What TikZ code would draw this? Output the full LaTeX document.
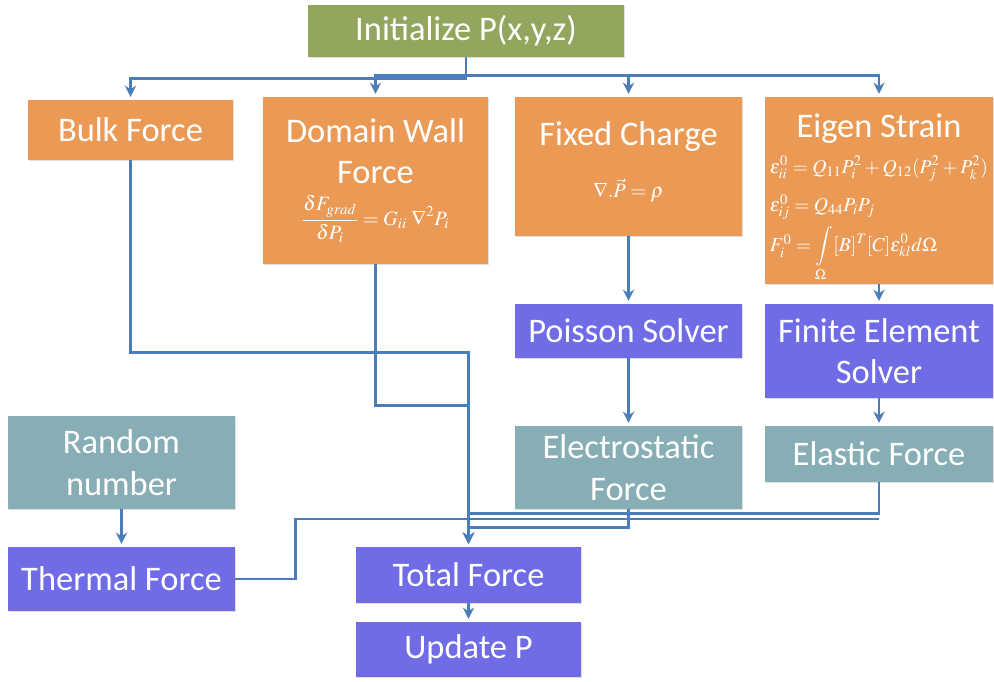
\documentclass[tikz,border=0pt]{standalone}
\usepackage{mathptmx}
\usepackage[no-math]{fontspec}
\setmainfont{Carlito}
\usetikzlibrary{arrows.meta,shadows}
\definecolor{initgreen}{HTML}{93A65E}
\definecolor{forceorange}{HTML}{EB9A56}
\definecolor{solverblue}{HTML}{6F6CE6}
\definecolor{resultteal}{HTML}{88AEB5}
\definecolor{lineblue}{HTML}{4A7EBB}
\newcommand\eqsize{\fontsize{14.5}{17}\selectfont}
\begin{document}
\begin{tikzpicture}[x=0.025cm,y=-0.025cm,
  box/.style={rectangle,inner sep=0pt,text=white,align=center,
    font=\fontsize{24.5}{29.5}\selectfont,
    drop shadow={opacity=0.25,shadow xshift=1pt,shadow yshift=-1pt}},
  flow/.style={draw=lineblue,line width=2pt,shorten >=2pt,
    -{Stealth[length=8pt,width=8pt]}},
  link/.style={draw=lineblue,line width=2pt}]
  \useasboundingbox (0,0) rectangle (994,682);
  % top row
  \node[box,fill=initgreen,minimum width=7.9cm,minimum height=1.3cm]
    (init) at (466,31) {Initialize P(x,y,z)};
  \node[box,fill=forceorange,minimum width=5.125cm,minimum height=1.5cm]
    (bulk) at (130.5,130) {Bulk Force};
  \node[box,fill=forceorange,minimum width=5.625cm,minimum height=4.175cm]
    (domain) at (375.5,180.5)
    {Domain Wall\\Force\\[0pt]
     \eqsize$\displaystyle\frac{\delta F_{grad}}{\delta P_i}=G_{ii}\ \nabla^2P_i$};
  \node[box,fill=forceorange,minimum width=5.675cm,minimum height=3.475cm]
    (fixed) at (628.5,166.5)
    {Fixed Charge\\[8pt]\eqsize$\nabla.\vec{P}=\rho$\rule[-10pt]{0pt}{0pt}};
  \node[box,fill=forceorange,minimum width=5.7cm,minimum height=4.675cm]
    (eigen) at (879,190.5)
    {\rule{0pt}{27pt}Eigen Strain\\[8pt]
     \fontsize{14}{17}\selectfont\begin{tabular}{@{}l@{}}
       $\varepsilon^0_{ii}=Q_{11}P_i^2+Q_{12}(P_j^2+P_k^2)$\\[10pt]
       $\varepsilon^0_{ij}=Q_{44}P_iP_j$\\[6pt]
       $F_i^0=\displaystyle\int\limits_\Omega[B]^T[C]\varepsilon^0_{kl}d\Omega$
     \end{tabular}};
  % solvers and results
  \node[box,fill=solverblue,minimum width=5.675cm,minimum height=1.35cm]
    (poisson) at (628.5,331) {Poisson Solver};
  \node[box,fill=solverblue,minimum width=5.7cm,minimum height=2.35cm]
    (fem) at (879,351) {Finite Element\\Solver};
  \node[box,fill=resultteal,minimum width=5.675cm,minimum height=2.325cm]
    (random) at (121.5,462.5) {Random\\number};
  \node[box,fill=resultteal,minimum width=5.675cm,minimum height=2.075cm]
    (elec) at (628.5,467.5) {Electrostatic\\Force};
  \node[box,fill=resultteal,minimum width=5.7cm,minimum height=1.4cm]
    (elastic) at (879,454) {Elastic Force};
  \node[box,fill=solverblue,minimum width=5.675cm,minimum height=1.6cm]
    (thermal) at (121.5,579) {Thermal Force};
  \node[box,fill=solverblue,minimum width=5.625cm,minimum height=1.4cm]
    (total) at (468.5,575) {Total Force};
  \node[box,fill=solverblue,minimum width=5.625cm,minimum height=1.375cm]
    (update) at (468.5,649.5) {Update P};
  \coordinate (tj) at (879,519);
  % connectors
  \draw[flow] (init.south) -- ++(0,21) -| (bulk.north);
  \draw[flow] (init.south) -- ++(0,18) -| (domain.north);
  \draw[flow] (init.south) -- ++(0,18) -| (fixed.north);
  \draw[flow] (init.south) -- ++(0,18) -| (eigen.north);
  \draw[flow] (fixed) -- (poisson);
  \draw[flow] (poisson) -- (elec);
  \draw[flow] (eigen) -- (fem);
  \draw[flow] (fem) -- (elastic);
  \draw[flow] (random) -- (thermal);
  \draw[flow] (bulk.south) -- ++(0,192) -| (total.north);
  \draw[flow] (domain.south) -- ++(0,141) -| (total.north);
  \draw[flow] (elastic.south) -- ++(0,31) -| (total.north);
  \draw[flow] (elec.south) -- ++(0,18) -| (total.north);
  \draw[link] (thermal.east) -- ++(60,0) |- (tj);
  \draw[flow] (total) -- (update);
\end{tikzpicture}
\end{document}
